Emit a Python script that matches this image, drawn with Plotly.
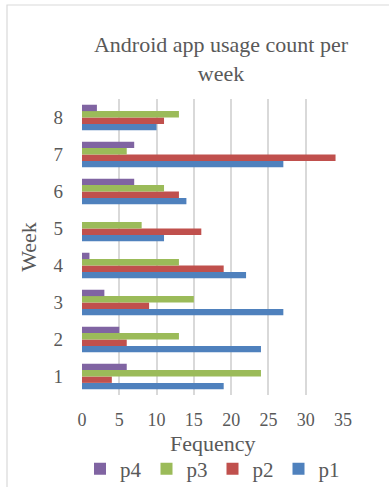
import plotly.graph_objects as go

weeks = ["1", "2", "3", "4", "5", "6", "7", "8"]
p1 = [19, 24, 27, 22, 11, 14, 27, 10]
p2 = [4, 6, 9, 19, 16, 13, 34, 11]
p3 = [24, 13, 15, 13, 8, 11, 6, 13]
p4 = [6, 5, 3, 1, 0, 7, 7, 2]
series = [("p1", p1, "#4F81BD"), ("p2", p2, "#C0504D"),
          ("p3", p3, "#9BBB59"), ("p4", p4, "#8064A2")]
x_ticks = [0, 5, 10, 15, 20, 25, 30, 35]

FONT = "Liberation Serif"
TXT = "#595959"
GRID = "#D9D9D9"

W, H = 389, 487
L, R, T, B = 82, 46, 99, 92

fig = go.Figure()
for name, vals, col in series:
    fig.add_trace(go.Bar(y=weeks, x=vals, name=name, orientation="h",
                         marker=dict(color=col, line=dict(width=0))))

pw = W - L - R
ph = H - T - B
def px_x(p):
    return (p - L) / pw
def px_y(p):
    return (H - B - p) / ph

fig.update_layout(
    width=W, height=H,
    margin=dict(l=L, r=R, t=T, b=B, autoexpand=False),
    paper_bgcolor="white", plot_bgcolor="white",
    barmode="group", bargap=0.31, bargroupgap=0,
    font=dict(family=FONT, color=TXT, size=18),
    title=dict(text="Android app usage count per<br>week",
               font=dict(family=FONT, size=22, color=TXT),
               x=221 / W, xref="container", xanchor="center",
               y=1 - 52 / H, yref="container", yanchor="top"),
    xaxis=dict(range=[0, 35], tickvals=x_ticks, showgrid=True,
               gridcolor=GRID, gridwidth=1.5, zeroline=False, showline=False,
               ticks="", ticklabelstandoff=12,
               tickfont=dict(size=18, family=FONT, color=TXT)),
    yaxis=dict(type="category", showgrid=False, zeroline=False,
               showline=False, ticks="", ticklabelstandoff=18,
               tickfont=dict(size=19, family=FONT, color=TXT),
               title=dict(text="Week", standoff=10,
                          font=dict(size=22, family=FONT, color=TXT))),
    legend=dict(orientation="h", traceorder="reversed",
                x=0.5, xanchor="center", xref="paper",
                y=1 - 469 / H, yref="container", yanchor="middle",
                font=dict(size=21, family=FONT, color=TXT),
                itemwidth=30),
    annotations=[dict(text="Fequency", xref="paper", yref="paper",
                      x=0.5, y=px_y(443), xanchor="center", yanchor="middle",
                      showarrow=False,
                      font=dict(size=22, family=FONT, color=TXT))],
    shapes=[dict(type="rect", xref="paper", yref="paper",
                 x0=px_x(7), x1=px_x(W + 20), y0=px_y(H + 20), y1=px_y(5),
                 line=dict(color=GRID, width=1.2), layer="below")],
)

fig.write_html("out.html")
